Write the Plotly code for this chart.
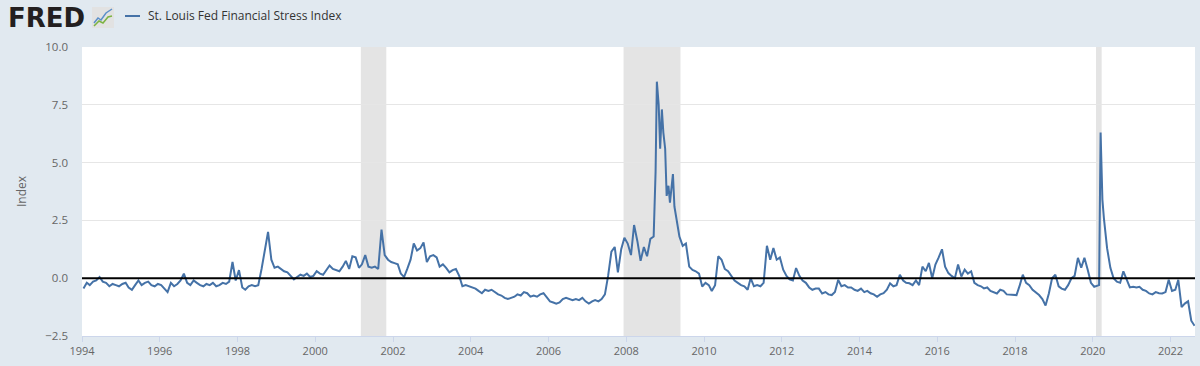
import pandas as pd
import plotly.graph_objects as go

# ---- Data: monthly readings of the St. Louis Fed Financial Stress Index ----
f1994 = [-0.45, -0.2, -0.3, -0.15, -0.1, 0.05, -0.15, -0.2, -0.35, -0.25, -0.3, -0.35]
f1995 = [-0.25, -0.2, -0.4, -0.5, -0.3, -0.1, -0.3, -0.2, -0.15, -0.3, -0.35, -0.25]
f1996 = [-0.3, -0.45, -0.6, -0.2, -0.35, -0.25, -0.1, 0.2, -0.2, -0.3, -0.1, -0.2]
f1997 = [-0.3, -0.35, -0.25, -0.3, -0.2, -0.35, -0.3, -0.2, -0.25, -0.15, 0.7, -0.1]
f1998 = [0.35, -0.4, -0.5, -0.35, -0.3, -0.35, -0.3, 0.4, 1.25, 2.0, 0.8, 0.45]
f1999 = [0.5, 0.4, 0.3, 0.25, 0.1, -0.05, 0.05, 0.15, 0.1, 0.2, 0.05, 0.1]
f2000 = [0.3, 0.2, 0.15, 0.35, 0.55, 0.4, 0.35, 0.3, 0.5, 0.75, 0.4, 0.95]
f2001 = [0.9, 0.45, 0.6, 1.0, 0.5, 0.45, 0.5, 0.4, 2.1, 1.0, 0.8, 0.7]
f2002 = [0.65, 0.6, 0.2, 0.05, 0.4, 0.8, 1.5, 1.2, 1.3, 1.55, 0.7, 0.95]
f2003 = [1.0, 0.9, 0.5, 0.6, 0.45, 0.25, 0.35, 0.4, 0.1, -0.35, -0.3, -0.35]
f2004 = [-0.4, -0.45, -0.55, -0.65, -0.5, -0.55, -0.5, -0.6, -0.7, -0.75, -0.85, -0.9]
f2005 = [-0.85, -0.8, -0.7, -0.75, -0.6, -0.65, -0.8, -0.75, -0.8, -0.7, -0.65, -0.8]
f2006 = [-1.0, -1.05, -1.1, -1.05, -0.9, -0.85, -0.9, -0.95, -0.9, -0.95, -0.85, -1.0]
f2007 = [-1.1, -1.0, -0.95, -1.0, -0.9, -0.7, 0.1, 1.15, 1.35, 0.25, 1.25, 1.75]
f2008 = [1.5, 1.0, 2.3, 1.6, 0.75, 1.35, 0.95, 1.7, 1.8, 8.5, 5.6, 6.3]
f2009 = [3.56, 3.27, 4.5, 2.6, 1.8, 1.4, 1.5, 0.5, 0.36, 0.3, 0.2, -0.36]
f2010 = [-0.2, -0.3, -0.55, -0.3, 0.95, 0.8, 0.4, 0.3, 0.1, -0.1, -0.2, -0.3]
f2011 = [-0.35, -0.5, 0.0, -0.35, -0.3, -0.35, -0.2, 1.4, 0.8, 1.3, 0.8, 0.9]
f2012 = [0.37, 0.1, -0.05, -0.1, 0.44, 0.1, -0.1, -0.2, -0.4, -0.5, -0.45, -0.45]
f2013 = [-0.66, -0.6, -0.7, -0.73, -0.6, -0.07, -0.35, -0.3, -0.4, -0.4, -0.5, -0.55]
f2014 = [-0.45, -0.6, -0.55, -0.65, -0.7, -0.8, -0.7, -0.65, -0.5, -0.22, -0.35, -0.3]
f2015 = [0.15, -0.1, -0.2, -0.22, -0.3, -0.1, -0.3, 0.5, 0.3, 0.66, 0.0, 0.59]
f2016 = [0.9, 1.25, 0.5, 0.22, 0.1, 0.0, 0.59, 0.07, 0.37, 0.2, 0.3, -0.2]
f2017 = [-0.3, -0.35, -0.44, -0.4, -0.55, -0.6, -0.66, -0.5, -0.55, -0.7, -0.7, -0.72]
f2018 = [-0.73, -0.3, 0.15, -0.2, -0.3, -0.5, -0.6, -0.73, -0.9, -1.18, -0.66, 0.0]
f2019 = [0.15, -0.35, -0.45, -0.5, -0.3, 0.0, 0.1, 0.88, 0.45, 0.88, 0.37, -0.2]
f2020 = [-0.37, -0.3, 6.3, 2.6, 1.3, 0.45, 0.0, -0.15, -0.2, 0.3, -0.1, -0.4]
f2021 = [-0.37, -0.4, -0.37, -0.5, -0.55, -0.66, -0.7, -0.6, -0.65, -0.66, -0.6, -0.07]
f2022 = [-0.55, -0.5, -0.07, -1.25, -1.1, -1.0, -1.84, -2.06]

# extra intra-month readings around the sharpest moves
extra_dates = ["2008-10-03", "2008-11-01", "2008-12-01", "2009-01-01", "2009-02-01",
               "2009-03-29", "2020-03-01", "2020-04-01"]
extra_values = [4.6, 7.5, 7.3, 5.6, 4.0, 3.1, -0.3, 3.4]

recession_starts = ["2001-03-05", "2007-12-07", "2020-02-01"]
recession_ends = ["2001-10-30", "2009-05-25", "2020-03-25"]

year_tick_values = list(range(1994, 2023, 2))

series_name = "St. Louis Fed Financial Stress Index"

# ---- Assemble series ----
yearly = [f1994, f1995, f1996, f1997, f1998, f1999, f2000, f2001, f2002, f2003,
          f2004, f2005, f2006, f2007, f2008, f2009, f2010, f2011, f2012, f2013,
          f2014, f2015, f2016, f2017, f2018, f2019, f2020, f2021, f2022]
rows = []
for i, lst in enumerate(yearly):
    for m, v in enumerate(lst):
        rows.append((pd.Timestamp(1994 + i, m + 1, 15), v))
for d, v in zip(extra_dates, extra_values):
    rows.append((pd.Timestamp(d), v))
df = pd.DataFrame(rows, columns=["date", "value"]).sort_values("date")

# ---- Layout geometry (pixels) ----
W, H = 1200, 366
L, R, T, B = 82, 5, 47, 30
PW, PH = W - L - R, H - T - B


def px(x):
    return (x - L) / PW


def py(y):
    return (H - B - y) / PH


fig = go.Figure()
fig.add_trace(go.Scatter(x=df["date"], y=df["value"], mode="lines",
                         line=dict(color="#4572a7", width=2),
                         name=series_name, showlegend=False))

shapes = []
for s, e in zip(recession_starts, recession_ends):
    shapes.append(dict(type="rect", xref="x", yref="paper", x0=s, x1=e, y0=0, y1=1,
                       fillcolor="#e4e4e4", line=dict(width=0), layer="between"))
# zero line on top
shapes.append(dict(type="line", xref="paper", yref="y", x0=0, x1=1, y0=0, y1=0,
                   line=dict(color="#000000", width=2), layer="above"))
# legend swatch
shapes.append(dict(type="line", xref="paper", yref="paper", x0=px(125), x1=px(140),
                   y0=py(16), y1=py(16), line=dict(color="#4572a7", width=2)))
# FRED logo icon
shapes.append(dict(type="rect", xref="paper", yref="paper", x0=px(92), x1=px(114),
                   y0=py(28), y1=py(7), fillcolor="#e2e2e2", line=dict(width=0)))


def path(points):
    return "M " + " L ".join(f"{px(a)},{py(b)}" for a, b in points)


shapes.append(dict(type="path", xref="paper", yref="paper",
                   path=path([(94, 23), (98, 18), (101, 20), (106, 13), (112, 9)]),
                   line=dict(color="#5b8fc9", width=1.5)))
shapes.append(dict(type="path", xref="paper", yref="paper",
                   path=path([(94, 26), (99, 21), (103, 23), (108, 17), (112, 16)]),
                   line=dict(color="#7cb342", width=1.5)))

annotations = [
    dict(text="<b>FRED</b>", xref="paper", yref="paper", x=px(6), y=py(18), xanchor="left",
         yanchor="middle", showarrow=False,
         font=dict(family="DejaVu Sans", size=26, color="#231f20")),
    dict(text=series_name, xref="paper", yref="paper", x=px(146), y=py(16),
         xanchor="left", yanchor="middle", showarrow=False,
         font=dict(family="Open Sans", size=12, color="#333333")),
    dict(text="Index", xref="paper", yref="paper", x=px(21), y=py(191), textangle=-90,
         xanchor="center", yanchor="middle", showarrow=False,
         font=dict(family="Open Sans", size=12, color="#666666")),
]

fig.update_layout(
    width=W, height=H,
    margin=dict(l=L, r=R, t=T, b=B, pad=0),
    paper_bgcolor="#e1e9f0",
    plot_bgcolor="#ffffff",
    shapes=shapes,
    annotations=annotations,
    showlegend=False,
    font=dict(family="Open Sans", size=11, color="#666666"),
)
fig.update_xaxes(
    type="date",
    range=["1994-01-01", "2022-08-19"],
    tickvals=[pd.Timestamp(y, 1, 1) for y in year_tick_values],
    ticktext=[str(y) for y in year_tick_values],
    showgrid=False, zeroline=False,
    showline=True, linecolor="#ccd6eb", linewidth=1,
    ticks="outside", ticklen=5, tickcolor="#ccd6eb",
    tickfont=dict(family="Open Sans", size=11, color="#666666"),
)
fig.update_yaxes(
    range=[-2.5, 10], dtick=2.5, tick0=0, tickformat=".1f",
    showgrid=True, gridcolor="#e6e6e6", gridwidth=1, zeroline=False,
    showline=False, ticks="", ticklabelstandoff=13,
    tickfont=dict(family="Open Sans", size=11.5, color="#666666"),
)

fig.write_html("out.html", config={"displayModeBar": False},
               post_script="document.body.style.margin='0';")
